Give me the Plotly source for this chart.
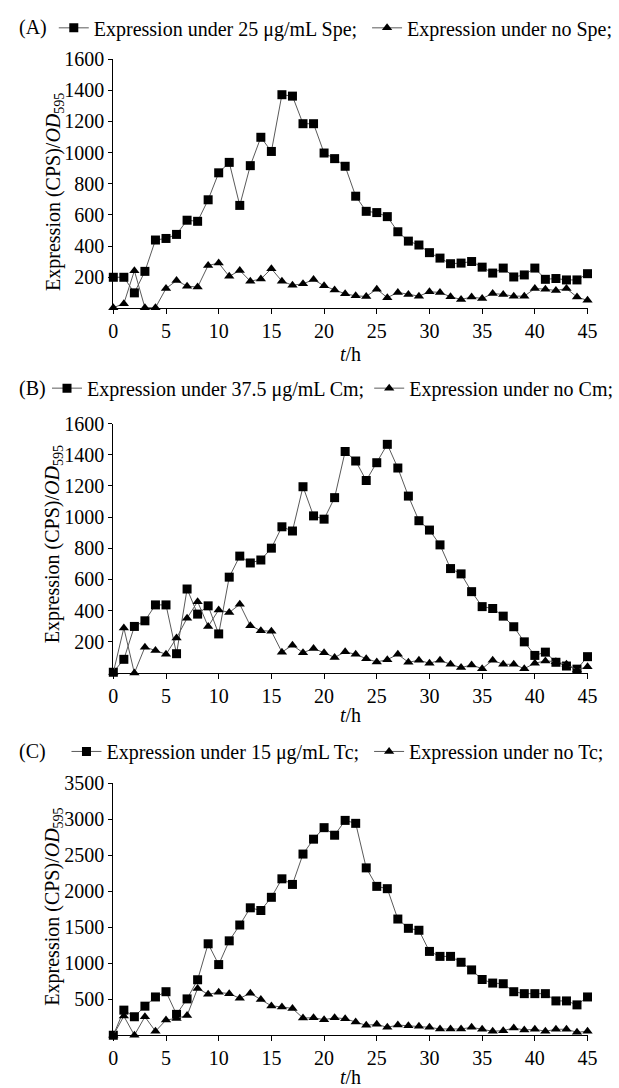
import plotly.graph_objects as go

# ---------------- data ----------------
hours = list(range(46))
x_ticks = [0, 5, 10, 15, 20, 25, 30, 35, 40, 45]

spe_25 = [200, 200, 100, 238, 439, 449, 475, 566, 559, 697, 870, 937, 661, 916, 1098, 1007,
          1371, 1362, 1185, 1185, 997, 961, 912, 720, 623, 615, 589, 492, 432, 407, 358, 323,
          287, 291, 301, 265, 227, 259, 202, 215, 259, 187, 192, 183, 183, 223]
spe_none = [5, 31, 242, 5, 5, 128, 179, 143, 137, 276, 291, 206, 244, 175, 189, 255, 175, 149,
            158, 185, 145, 118, 94, 81, 77, 124, 69, 103, 90, 79, 107, 103, 75, 58, 73, 64, 96,
            90, 79, 79, 128, 124, 115, 128, 73, 52]

cm_375 = [5, 88, 299, 335, 437, 437, 124, 539, 378, 431, 251, 615, 750, 706, 725, 801, 938, 911,
          1195, 1008, 987, 1125, 1421, 1360, 1235, 1349, 1467, 1315, 1135, 977, 917, 822, 670,
          636, 522, 426, 414, 365, 297, 200, 113, 134, 69, 45, 25, 105]
cm_none = [3, 289, 0, 166, 145, 120, 225, 352, 458, 299, 405, 388, 441, 304, 272, 268, 134, 179,
           130, 158, 130, 100, 136, 120, 92, 71, 86, 120, 69, 82, 63, 82, 56, 35, 52, 28, 82, 56,
           56, 28, 63, 78, 73, 56, 20, 41]

tc_15 = [0, 349, 257, 404, 532, 605, 290, 505, 771, 1271, 982, 1312, 1532, 1771, 1734, 1917, 2174,
         2096, 2518, 2725, 2885, 2780, 2986, 2945, 2326, 2069, 2037, 1615, 1486, 1459, 1165, 1096,
         1096, 1014, 908, 775, 725, 716, 605, 578, 578, 578, 477, 477, 422, 532]
tc_none = [0, 266, 0, 257, 55, 211, 234, 275, 651, 569, 596, 578, 514, 583, 495, 408, 394, 372,
           239, 244, 216, 244, 229, 183, 138, 151, 110, 142, 133, 124, 110, 87, 87, 87, 110, 83,
           55, 64, 101, 73, 83, 55, 83, 83, 41, 55]

yticks_a = [200, 400, 600, 800, 1000, 1200, 1400, 1600]
yticks_b = [200, 400, 600, 800, 1000, 1200, 1400, 1600]
yticks_c = [500, 1000, 1500, 2000, 2500, 3000, 3500]

names = [
    ("Expression under 25 μg/mL Spe; ", "Expression under no Spe;"),
    ("Expression under 37.5 μg/mL Cm;", "Expression under no Cm;"),
    ("Expression under 15 μg/mL Tc; ", "Expression under no Tc;"),
]
panel_labels = ["(A)", "(B)", "(C)"]

# ---------------- layout constants ----------------
W, H = 619, 1088
FONT = "Liberation Serif"
LINE_COL = "#5a5a5a"


def py(p):
    return 1 - p / H


def px(p):
    return p / W


x0, x1 = 111, 597
panels = [
    dict(top=48.5, bot=300.5, rng=[0, 1600], ticks=yticks_a, leg_y=17, leg_x=50, title_y=183, xt_y=346),
    dict(top=416.8, bot=668.8, rng=[0, 1600], ticks=yticks_b, leg_y=381, leg_x=46, title_y=539, xt_y=711),
    dict(top=780.3, bot=1034.7, rng=[0, 3500], ticks=yticks_c, leg_y=748, leg_x=63, title_y=905, xt_y=1077),
]
series = [(spe_25, spe_none), (cm_375, cm_none), (tc_15, tc_none)]

fig = go.Figure()
layout = dict(
    width=W, height=H, margin=dict(l=0, r=0, t=0, b=0),
    paper_bgcolor="white", plot_bgcolor="white",
    font=dict(family=FONT, size=20, color="black"),
    annotations=[], showlegend=True,
)

for i, (pan, (s1, s2), (n1, n2)) in enumerate(zip(panels, series, names)):
    suf = "" if i == 0 else str(i + 1)
    leg = "legend" if i == 0 else f"legend{i + 1}"
    fig.add_trace(go.Scatter(
        x=hours, y=s1, name=n1, mode="lines+markers", xaxis="x" + suf, yaxis="y" + suf,
        line=dict(color=LINE_COL, width=1),
        marker=dict(symbol="square", size=9, color="black"),
        cliponaxis=False, legend=leg,
    ))
    fig.add_trace(go.Scatter(
        x=hours, y=s2, name=n2, mode="lines+markers", xaxis="x" + suf, yaxis="y" + suf,
        line=dict(color=LINE_COL, width=1),
        marker=dict(symbol="triangle-up", size=9, color="black"),
        cliponaxis=False, legend=leg,
    ))
    layout["xaxis" + suf] = dict(
        domain=[px(x0), px(x1)], range=[0, 45], anchor="y" + suf,
        tickvals=x_ticks, ticks="outside", ticklen=5, tickcolor="black",
        showline=True, linecolor="black", linewidth=1, showgrid=False, zeroline=False,
        tickfont=dict(family=FONT, size=20, color="black"),
    )
    layout["yaxis" + suf] = dict(
        domain=[py(pan["bot"]), py(pan["top"])], range=pan["rng"], anchor="x" + suf,
        tickvals=pan["ticks"], ticks="outside", ticklen=4, tickcolor="black",
        showline=True, linecolor="black", linewidth=1, showgrid=False, zeroline=False,
        tickfont=dict(family=FONT, size=20, color="black"),
    )
    layout[leg] = dict(
        orientation="h", x=px(pan["leg_x"]), xanchor="left", y=py(pan["leg_y"]), yanchor="middle",
        font=dict(family=FONT, size=20, color="black"), bgcolor="rgba(0,0,0,0)",
        borderwidth=0, itemwidth=30, tracegroupgap=0,
    )
    layout["annotations"] += [
        dict(text=panel_labels[i], x=px(12), y=py(pan["leg_y"]), xref="paper", yref="paper",
             xanchor="left", yanchor="middle", showarrow=False,
             font=dict(family=FONT, size=20, color="black")),
        dict(text="Expression (CPS)/<i>OD</i><sub>595</sub>", x=px(50), y=py(pan["title_y"]),
             xref="paper", yref="paper", xanchor="center", yanchor="middle", textangle=-90,
             showarrow=False, font=dict(family=FONT, size=20, color="black")),
        dict(text="<i>t</i>/h", x=px((x0 + x1) / 2), y=py(pan["xt_y"]), xref="paper", yref="paper",
             xanchor="center", yanchor="middle", showarrow=False,
             font=dict(family=FONT, size=20, color="black")),
    ]

fig.update_layout(**layout)
fig.write_html("out.html")
